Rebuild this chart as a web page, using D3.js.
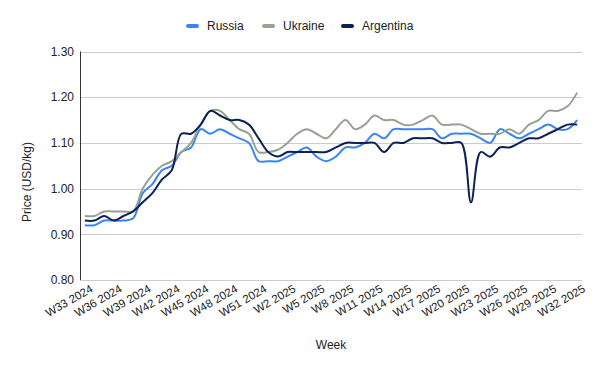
<!DOCTYPE html>
<html lang="en">
  <head>
    <meta charset="utf-8" />
    <title>Price by week</title>
    <script src="https://d3js.org/d3.v7.min.js"></script>
    <style>
      body { margin: 0; background: #fff; }
      text { font-family: "Liberation Sans", Arial, sans-serif; fill: #222; }
    </style>
  </head>
  <body>
    <svg width="600" height="371"></svg>
  <script>
    // Weeks (categories)
    const weeks = [
      'W33 2024','W34 2024','W35 2024','W36 2024','W37 2024','W38 2024','W39 2024','W40 2024',
      'W41 2024','W42 2024','W43 2024','W44 2024','W45 2024','W46 2024','W47 2024','W48 2024',
      'W49 2024','W50 2024','W51 2024','W52 2024','W1 2025','W2 2025','W3 2025','W4 2025',
      'W5 2025','W6 2025','W7 2025','W8 2025','W9 2025','W10 2025','W11 2025','W12 2025',
      'W13 2025','W14 2025','W15 2025','W16 2025','W17 2025','W18 2025','W19 2025','W20 2025',
      'W21 2025','W22 2025','W23 2025','W24 2025','W25 2025','W26 2025','W27 2025','W28 2025',
      'W29 2025','W30 2025','W31 2025','W32 2025'
    ];

    // Series values (USD/kg)
    const russia = [
      0.92, 0.92, 0.93, 0.93, 0.93, 0.935, 0.99, 1.01, 1.04, 1.05, 1.08, 1.09, 1.13, 1.12, 1.13, 1.12,
      1.11, 1.10, 1.06, 1.06, 1.06, 1.07, 1.08, 1.09, 1.07, 1.06, 1.07, 1.09, 1.09, 1.10, 1.12, 1.11,
      1.13, 1.13, 1.13, 1.13, 1.13, 1.11, 1.12, 1.12, 1.12, 1.11, 1.10, 1.13, 1.12, 1.11, 1.12, 1.13,
      1.14, 1.13, 1.13, 1.15
    ];
    const ukraine = [
      0.94, 0.94, 0.95, 0.95, 0.95, 0.95, 1.00, 1.03, 1.05, 1.06, 1.08, 1.10, 1.14, 1.17, 1.17, 1.15,
      1.13, 1.12, 1.08, 1.08, 1.085, 1.10, 1.12, 1.13, 1.12, 1.11, 1.13, 1.15, 1.13, 1.14, 1.16, 1.15,
      1.15, 1.14, 1.14, 1.15, 1.16, 1.14, 1.14, 1.14, 1.13, 1.12, 1.12, 1.12, 1.13, 1.12, 1.14, 1.15,
      1.17, 1.17, 1.18, 1.21
    ];
    const argentina = [
      0.93, 0.93, 0.94, 0.93, 0.94, 0.95, 0.97, 0.99, 1.02, 1.04, 1.12, 1.12, 1.14, 1.17, 1.16, 1.15,
      1.15, 1.14, 1.11, 1.08, 1.07, 1.08, 1.08, 1.08, 1.08, 1.08, 1.09, 1.10, 1.10, 1.10, 1.10, 1.08,
      1.10, 1.10, 1.11, 1.11, 1.11, 1.10, 1.10, 1.10, 0.97, 1.08, 1.07, 1.09, 1.09, 1.10, 1.11, 1.11,
      1.12, 1.13, 1.14, 1.14
    ];

    // Tick labels
    const yTicks = [0.8, 0.9, 1.0, 1.1, 1.2, 1.3];
    const xTickLabels = weeks.filter((w, i) => i % 3 === 0);

    const series = [
      { name: 'Russia', values: russia, color: '#3b84f4' },
      { name: 'Ukraine', values: ukraine, color: '#96a294' },
      { name: 'Argentina', values: argentina, color: '#0c2255' }
    ];

    const svg = d3.select('svg');
    const plotLeft = 80, plotRight = 582, plotTop = 51.5, plotBottom = 280;

    const xScale = d3.scalePoint()
      .domain(weeks)
      .range([plotLeft, plotRight])
      .padding(0.5);

    const yScale = d3.scaleLinear()
      .domain([0.8, 1.3])
      .range([plotBottom, plotTop]);

    // Horizontal grid lines
    svg.append('g')
      .selectAll('line')
      .data(yTicks)
      .join('line')
      .attr('x1', plotLeft)
      .attr('x2', plotRight)
      .attr('y1', d => Math.round(yScale(d)) + 0.5)
      .attr('y2', d => Math.round(yScale(d)) + 0.5)
      .attr('stroke', '#cccccc');

    // Y axis labels
    svg.append('g')
      .selectAll('text')
      .data(yTicks)
      .join('text')
      .attr('x', plotLeft - 6)
      .attr('y', d => yScale(d))
      .attr('dy', '0.35em')
      .attr('text-anchor', 'end')
      .style('font-size', '12px')
      .text(d => d.toFixed(2));

    // Left axis line
    svg.append('line')
      .attr('x1', plotLeft + 0.5)
      .attr('x2', plotLeft + 0.5)
      .attr('y1', plotTop)
      .attr('y2', plotBottom)
      .attr('stroke', '#333');

    // X labels, rotated
    svg.append('g')
      .selectAll('text')
      .data(xTickLabels)
      .join('text')
      .attr('transform', d => `translate(${xScale(d) + 9}, ${plotBottom + 11}) rotate(-30)`)
      .attr('text-anchor', 'end')
      .style('font-size', '11.5px')
      .text(d => d);

    // Lines
    const line = d3.line()
      .x((d, i) => xScale(weeks[i]))
      .y(d => yScale(d))
      .curve(d3.curveCatmullRom.alpha(0.5));

    svg.append('g')
      .selectAll('path')
      .data(series)
      .join('path')
      .attr('d', s => line(s.values))
      .attr('fill', 'none')
      .attr('stroke', s => s.color)
      .attr('stroke-width', 2);

    // Legend
    const legendX = [186, 262, 341];
    const legend = svg.append('g')
      .selectAll('g')
      .data(series)
      .join('g')
      .attr('transform', (s, i) => `translate(${legendX[i]}, 26)`);
    legend.append('rect')
      .attr('x', 0)
      .attr('y', -2)
      .attr('width', 13)
      .attr('height', 4)
      .attr('rx', 2)
      .attr('fill', s => s.color);
    legend.append('text')
      .attr('x', 21)
      .attr('dy', '0.35em')
      .style('font-size', '12px')
      .text(s => s.name);

    // Axis titles
    svg.append('text')
      .attr('x', (plotLeft + plotRight) / 2)
      .attr('y', 349)
      .attr('text-anchor', 'middle')
      .style('font-size', '12px')
      .text('Week');

    svg.append('text')
      .attr('transform', 'translate(31, 182) rotate(-90)')
      .attr('text-anchor', 'middle')
      .style('font-size', '12px')
      .text('Price (USD/kg)');
  </script>
  </body>
</html>
